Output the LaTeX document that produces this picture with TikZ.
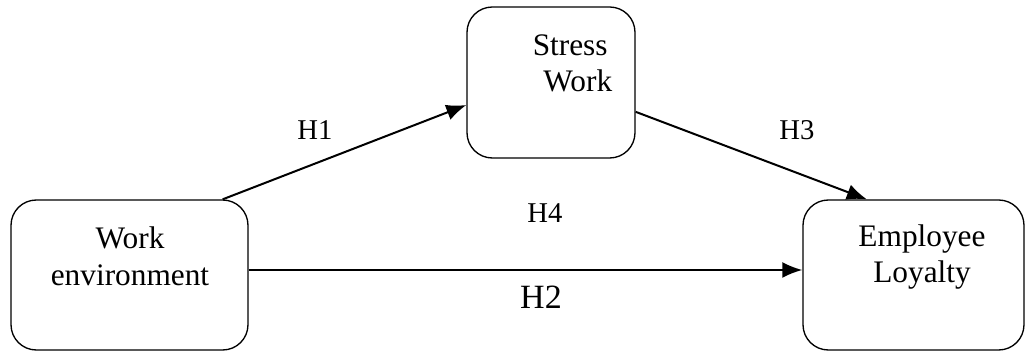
\documentclass[tikz,border=0pt]{standalone}
\usepackage{fontspec}
\setmainfont{Liberation Serif}
\usetikzlibrary{arrows.meta}

\begin{document}
\begin{tikzpicture}[x = 0.75pt, y = -0.75pt, > = {Latex[length = 15pt, width = 12pt]},
	box/.style = {draw, line width = 1pt, rounded corners = 19pt, inner sep = 0pt},
	boxtext/.style = {font = \fontsize{23.5}{27.5}\selectfont},
	hyp/.style = {font = \fontsize{21.5}{26}\selectfont},
	link/.style = {->, line width = 1.5pt}]

	% Frame

	\useasboundingbox (0, 0) rectangle (1029, 352);

	% Boxes

	\node [box, minimum width = 177.75pt, minimum height = 112.5pt] (work) at (129.5, 275) {};
	\node [box, minimum width = 126pt, minimum height = 113.25pt] (stress) at (551, 82.5) {};
	\node [box, minimum width = 165.75pt, minimum height = 112.5pt] (loyal) at (913.5, 275) {};

	% Texts in boxes

	\node [boxtext, align = center] (worktext) at (130, 256) {Work\\environment};
	\node [boxtext, align = left] (stresstext) at (572.5, 63.5) {Stress\\\hspace{8pt}Work};
	\node [boxtext, align = center] (loyaltext) at (922, 257) {Employee\\Loyalty};

	% Hypotheses

	\draw [link] ([xshift = -19.5pt] work.north east) -- ([yshift = -16.9pt] stress.west);
	\draw [link] ([yshift = -22pt] stress.east) -- ([xshift = -35pt] loyal.north);
	\draw [link] ([yshift = 3.75pt] work.east) -- ([yshift = 3.75pt] loyal.west);

	% Labels

	\node [hyp] (h1) at (315, 130) {H1};
	\node [hyp] (h3) at (797, 130) {H3};
	\node [hyp] (h4) at (545, 213) {H4};
	\node [font = \fontsize{25.5}{30}\selectfont] (h2) at (541, 297) {H2};

\end{tikzpicture}
\end{document}
